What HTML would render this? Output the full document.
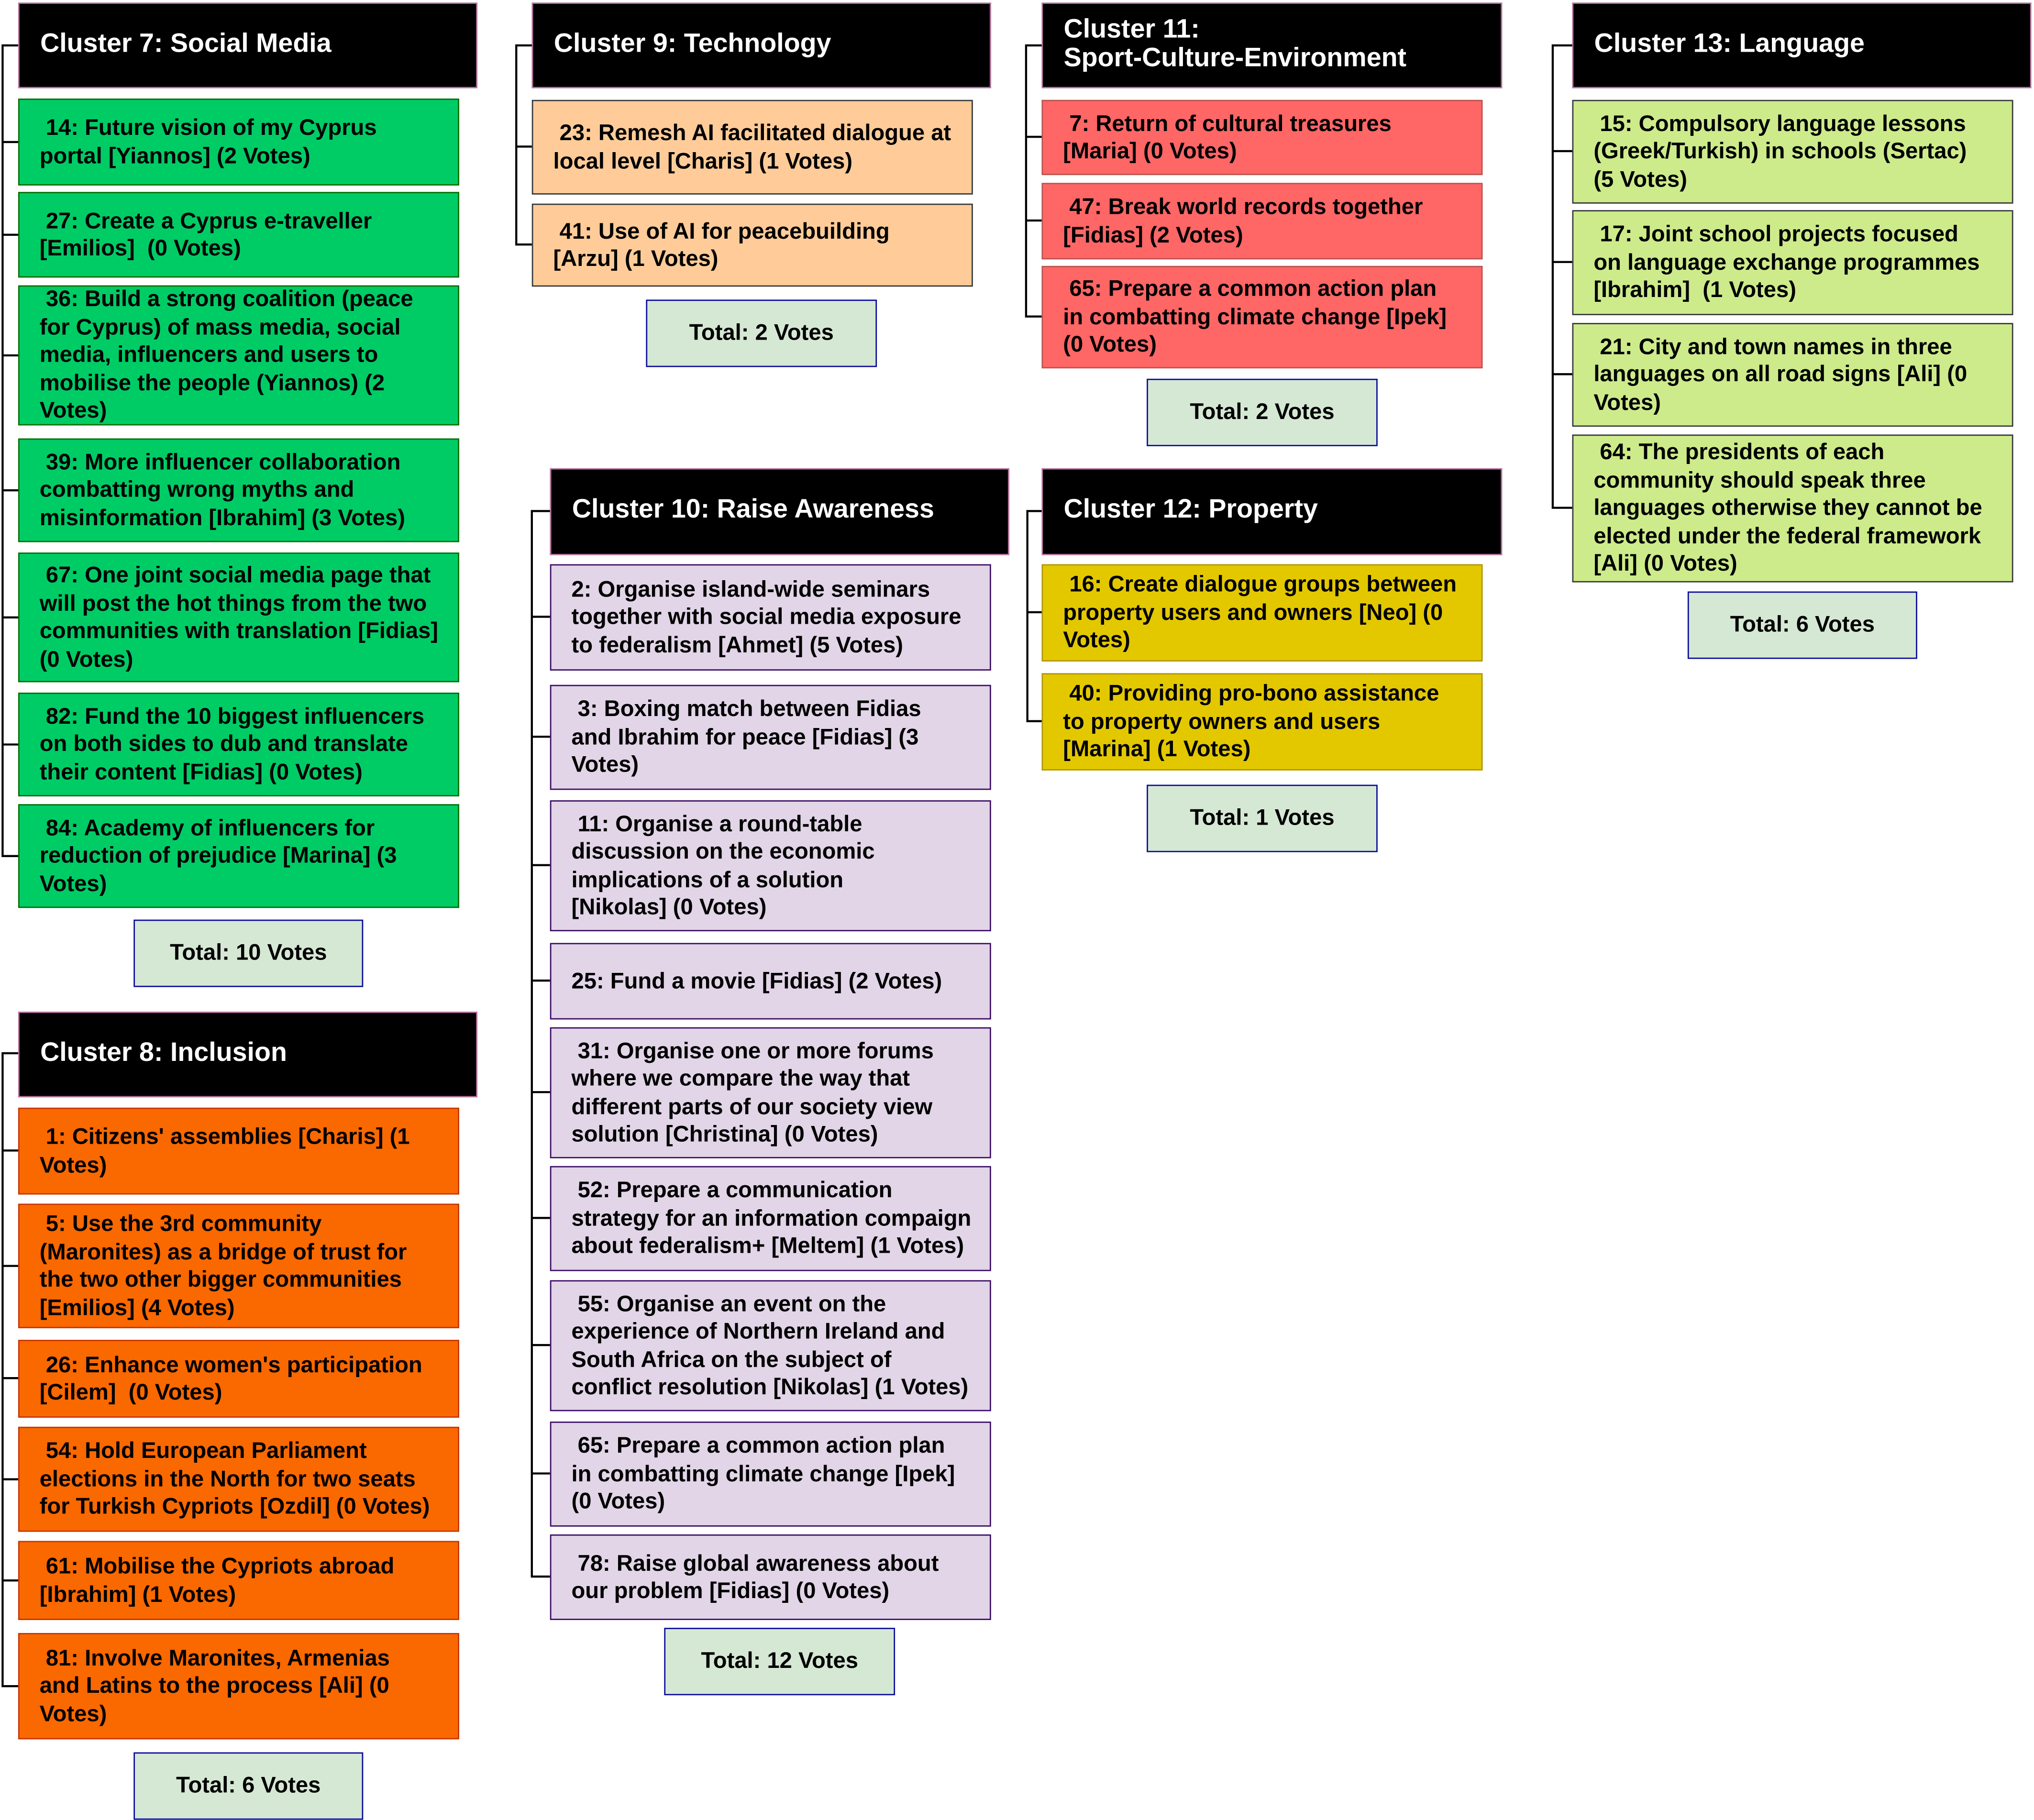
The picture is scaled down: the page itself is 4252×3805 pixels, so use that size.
<!DOCTYPE html>
<html><head><meta charset="utf-8"><style>
html,body{margin:0;padding:0;background:#fff;}
body{width:4252px;height:3804px;overflow:hidden;position:relative;}
#s{position:absolute;left:0;top:0;width:1568px;height:1403px;transform:scale(2.7117);transform-origin:0 0;font-family:"Liberation Sans",Arial,sans-serif;font-weight:bold;}
.b{position:absolute;box-sizing:border-box;display:flex;flex-direction:column;justify-content:center;white-space:nowrap;font-size:17.4px;line-height:21.5px;color:#000;padding-left:15.5px;border:1.5px solid #000;}
.h{background:#000;border-color:#b5739d;color:#fff;font-size:20.5px;line-height:22px;padding-left:16px;padding-bottom:3px;}
.g{background:#00cc66;border-color:#006e00;}
.o{background:#fa6800;border-color:#c73500;}
.p{background:#ffcc99;border-color:#36393d;}
.l{background:#e1d5e7;border-color:#3b0c65;}
.r{background:#ff6666;border-color:#b85450;}
.y{background:#e3c800;border-color:#b09500;}
.c{background:#cdeb8b;border-color:#36393d;}
.t{background:#d5e8d4;border-color:#0a0a9a;align-items:center;padding-left:0;}
svg{position:absolute;left:0;top:0;}
</style></head><body><div id="s">
<svg width="1568" height="1403" stroke="#000" stroke-width="1.6" fill="none">
<path d="M14 35H2V660H14 M2 109.5H14 M2 181H14 M2 274H14 M2 378H14 M2 476H14 M2 574H14"/>
<path d="M14 812H2V1300H14 M2 887H14 M2 976H14 M2 1062.5H14 M2 1140.5H14 M2 1218.5H14"/>
<path d="M410 35H398V188.5H410 M398 113H410"/>
<path d="M424 394H410V1215.5H424 M410 475.5H424 M410 568H424 M410 667H424 M410 756H424 M410 842H424 M410 939H424 M410 1037H424 M410 1136H424"/>
<path d="M803 35H791V244H803 M791 105.5H803 M791 170H803"/>
<path d="M803 394H792V556H803 M792 472H803"/>
<path d="M1212 35H1197V391.5H1212 M1197 116.5H1212 M1197 202H1212 M1197 288.5H1212"/>
</svg>

<div class="b h" style="left:14px;top:2px;width:354px;height:66px">Cluster 7: Social Media</div>
<div class="b g" style="left:14px;top:76px;width:340px;height:67px"><div>&nbsp;14: Future vision of my Cyprus</div><div>portal [Yiannos] (2 Votes)</div></div>
<div class="b g" style="left:14px;top:148px;width:340px;height:66px"><div>&nbsp;27: Create a Cyprus e-traveller</div><div>[Emilios]&nbsp; (0 Votes)</div></div>
<div class="b g" style="left:14px;top:220px;width:340px;height:108px"><div>&nbsp;36: Build a strong coalition (peace</div><div>for Cyprus) of mass media, social</div><div>media, influencers and users to</div><div>mobilise the people (Yiannos) (2</div><div>Votes)</div></div>
<div class="b g" style="left:14px;top:338px;width:340px;height:80px"><div>&nbsp;39: More influencer collaboration</div><div>combatting wrong myths and</div><div>misinformation [Ibrahim] (3 Votes)</div></div>
<div class="b g" style="left:14px;top:426px;width:340px;height:100px"><div>&nbsp;67: One joint social media page that</div><div>will post the hot things from the two</div><div>communities with translation [Fidias]</div><div>(0 Votes)</div></div>
<div class="b g" style="left:14px;top:534px;width:340px;height:80px"><div>&nbsp;82: Fund the 10 biggest influencers</div><div>on both sides to dub and translate</div><div>their content [Fidias] (0 Votes)</div></div>
<div class="b g" style="left:14px;top:620px;width:340px;height:80px"><div>&nbsp;84: Academy of influencers for</div><div>reduction of prejudice [Marina] (3</div><div>Votes)</div></div>
<div class="b t" style="left:103px;top:709px;width:177px;height:52px">Total: 10 Votes</div>

<div class="b h" style="left:14px;top:780px;width:354px;height:66px">Cluster 8: Inclusion</div>
<div class="b o" style="left:14px;top:854px;width:340px;height:67px"><div>&nbsp;1: Citizens' assemblies [Charis] (1</div><div>Votes)</div></div>
<div class="b o" style="left:14px;top:928px;width:340px;height:96px"><div>&nbsp;5: Use the 3rd community</div><div>(Maronites) as a bridge of trust for</div><div>the two other bigger communities</div><div>[Emilios] (4 Votes)</div></div>
<div class="b o" style="left:14px;top:1033px;width:340px;height:60px"><div>&nbsp;26: Enhance women's participation</div><div>[Cilem]&nbsp; (0 Votes)</div></div>
<div class="b o" style="left:14px;top:1100px;width:340px;height:81px"><div>&nbsp;54: Hold European Parliament</div><div>elections in the North for two seats</div><div>for Turkish Cypriots [Ozdil] (0 Votes)</div></div>
<div class="b o" style="left:14px;top:1188px;width:340px;height:61px"><div>&nbsp;61: Mobilise the Cypriots abroad</div><div>[Ibrahim] (1 Votes)</div></div>
<div class="b o" style="left:14px;top:1259px;width:340px;height:82px"><div>&nbsp;81: Involve Maronites, Armenias</div><div>and Latins to the process [Ali] (0</div><div>Votes)</div></div>
<div class="b t" style="left:103px;top:1351px;width:177px;height:52px">Total: 6 Votes</div>

<div class="b h" style="left:410px;top:2px;width:354px;height:66px">Cluster 9: Technology</div>
<div class="b p" style="left:410px;top:77px;width:340px;height:73px"><div>&nbsp;23: Remesh AI facilitated dialogue at</div><div>local level [Charis] (1 Votes)</div></div>
<div class="b p" style="left:410px;top:157px;width:340px;height:64px"><div>&nbsp;41: Use of AI for peacebuilding</div><div>[Arzu] (1 Votes)</div></div>
<div class="b t" style="left:498px;top:231px;width:178px;height:52px">Total: 2 Votes</div>

<div class="b h" style="left:424px;top:361px;width:354px;height:67px">Cluster 10: Raise Awareness</div>
<div class="b l" style="left:424px;top:435px;width:340px;height:82px"><div>2: Organise island-wide seminars</div><div>together with social media exposure</div><div>to federalism [Ahmet] (5 Votes)</div></div>
<div class="b l" style="left:424px;top:528px;width:340px;height:81px"><div>&nbsp;3: Boxing match between Fidias</div><div>and Ibrahim for peace [Fidias] (3</div><div>Votes)</div></div>
<div class="b l" style="left:424px;top:617px;width:340px;height:101px"><div>&nbsp;11: Organise a round-table</div><div>discussion on the economic</div><div>implications of a solution</div><div>[Nikolas] (0 Votes)</div></div>
<div class="b l" style="left:424px;top:727px;width:340px;height:59px"><div>25: Fund a movie [Fidias] (2 Votes)</div></div>
<div class="b l" style="left:424px;top:792px;width:340px;height:101px"><div>&nbsp;31: Organise one or more forums</div><div>where we compare the way that</div><div>different parts of our society view</div><div>solution [Christina] (0 Votes)</div></div>
<div class="b l" style="left:424px;top:899px;width:340px;height:81px"><div>&nbsp;52: Prepare a communication</div><div>strategy for an information compaign</div><div>about federalism+ [Meltem] (1 Votes)</div></div>
<div class="b l" style="left:424px;top:987px;width:340px;height:101px"><div>&nbsp;55: Organise an event on the</div><div>experience of Northern Ireland and</div><div>South Africa on the subject of</div><div>conflict resolution [Nikolas] (1 Votes)</div></div>
<div class="b l" style="left:424px;top:1096px;width:340px;height:81px"><div>&nbsp;65: Prepare a common action plan</div><div>in combatting climate change [Ipek]</div><div>(0 Votes)</div></div>
<div class="b l" style="left:424px;top:1183px;width:340px;height:66px"><div>&nbsp;78: Raise global awareness about</div><div>our problem [Fidias] (0 Votes)</div></div>
<div class="b t" style="left:512px;top:1255px;width:178px;height:52px">Total: 12 Votes</div>

<div class="b h" style="left:803px;top:2px;width:355px;height:66px"><div>Cluster 11:</div><div>Sport-Culture-Environment</div></div>
<div class="b r" style="left:803px;top:77px;width:340px;height:58px"><div>&nbsp;7: Return of cultural treasures</div><div>[Maria] (0 Votes)</div></div>
<div class="b r" style="left:803px;top:141px;width:340px;height:59px"><div>&nbsp;47: Break world records together</div><div>[Fidias] (2 Votes)</div></div>
<div class="b r" style="left:803px;top:205px;width:340px;height:79px"><div>&nbsp;65: Prepare a common action plan</div><div>in combatting climate change [Ipek]</div><div>(0 Votes)</div></div>
<div class="b t" style="left:884px;top:292px;width:178px;height:52px">Total: 2 Votes</div>

<div class="b h" style="left:803px;top:361px;width:355px;height:67px">Cluster 12: Property</div>
<div class="b y" style="left:803px;top:435px;width:340px;height:75px"><div>&nbsp;16: Create dialogue groups between</div><div>property users and owners [Neo] (0</div><div>Votes)</div></div>
<div class="b y" style="left:803px;top:519px;width:340px;height:75px"><div>&nbsp;40: Providing pro-bono assistance</div><div>to property owners and users</div><div>[Marina] (1 Votes)</div></div>
<div class="b t" style="left:884px;top:605px;width:178px;height:52px">Total: 1 Votes</div>

<div class="b h" style="left:1212px;top:2px;width:354px;height:66px">Cluster 13: Language</div>
<div class="b c" style="left:1212px;top:77px;width:340px;height:80px"><div>&nbsp;15: Compulsory language lessons</div><div>(Greek/Turkish) in schools (Sertac)</div><div>(5 Votes)</div></div>
<div class="b c" style="left:1212px;top:162px;width:340px;height:81px"><div>&nbsp;17: Joint school projects focused</div><div>on language exchange programmes</div><div>[Ibrahim]&nbsp; (1 Votes)</div></div>
<div class="b c" style="left:1212px;top:249px;width:340px;height:80px"><div>&nbsp;21: City and town names in three</div><div>languages on all road signs [Ali] (0</div><div>Votes)</div></div>
<div class="b c" style="left:1212px;top:335px;width:340px;height:114px"><div>&nbsp;64: The presidents of each</div><div>community should speak three</div><div>languages otherwise they cannot be</div><div>elected under the federal framework</div><div>[Ali] (0 Votes)</div></div>
<div class="b t" style="left:1301px;top:456px;width:177px;height:52px">Total: 6 Votes</div>
</div></body></html>
